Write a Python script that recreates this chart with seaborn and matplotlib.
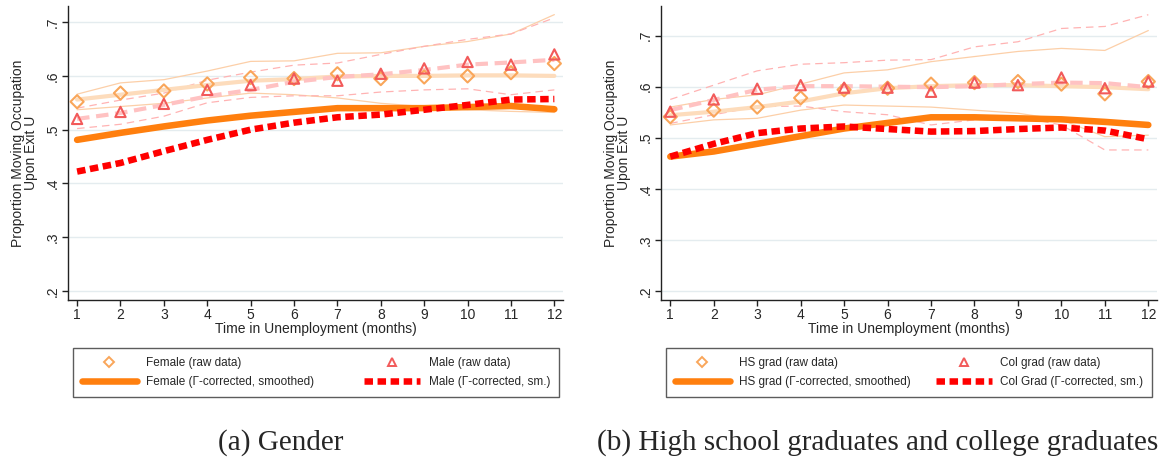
import numpy as np
import pandas as pd
import matplotlib
matplotlib.use('Agg')
import matplotlib.pyplot as plt
import seaborn as sns
from matplotlib.lines import Line2D

# months in unemployment
months = list(range(1, 13))

# ---- panel (a) gender ----
fem_raw = [0.552, 0.568, 0.572, 0.585, 0.597, 0.595, 0.604, 0.595, 0.598, 0.600, 0.606, 0.623]
male_raw = [0.520, 0.533, 0.548, 0.574, 0.583, 0.595, 0.591, 0.604, 0.614, 0.626, 0.621, 0.640]
fem_smooth = [0.556, 0.565, 0.574, 0.583, 0.591, 0.594, 0.599, 0.600, 0.600, 0.601, 0.601, 0.600]
male_smooth = [0.520, 0.531, 0.546, 0.562, 0.574, 0.589, 0.598, 0.603, 0.611, 0.621, 0.625, 0.630]
fem_hi = [0.566, 0.587, 0.593, 0.609, 0.627, 0.628, 0.642, 0.643, 0.655, 0.664, 0.678, 0.714]
fem_lo = [0.537, 0.543, 0.549, 0.559, 0.568, 0.565, 0.559, 0.549, 0.543, 0.537, 0.534, 0.532]
male_hi = [0.540, 0.555, 0.568, 0.592, 0.607, 0.620, 0.624, 0.640, 0.655, 0.668, 0.678, 0.708]
male_lo = [0.502, 0.510, 0.525, 0.550, 0.560, 0.563, 0.563, 0.570, 0.574, 0.576, 0.565, 0.574]
fem_corr = [0.481, 0.494, 0.506, 0.517, 0.526, 0.533, 0.540, 0.540, 0.540, 0.542, 0.544, 0.538]
male_corr = [0.422, 0.438, 0.460, 0.481, 0.500, 0.513, 0.523, 0.528, 0.537, 0.546, 0.556, 0.557]

# ---- panel (b) education ----
hs_raw = [0.541, 0.554, 0.560, 0.578, 0.594, 0.597, 0.605, 0.608, 0.610, 0.605, 0.586, 0.610]
col_raw = [0.551, 0.575, 0.596, 0.603, 0.598, 0.598, 0.590, 0.608, 0.603, 0.618, 0.597, 0.610]
hs_smooth = [0.544, 0.551, 0.560, 0.571, 0.587, 0.597, 0.601, 0.603, 0.603, 0.601, 0.599, 0.595]
col_smooth = [0.554, 0.574, 0.594, 0.601, 0.601, 0.600, 0.599, 0.601, 0.605, 0.608, 0.607, 0.599]
hs_hi = [0.560, 0.575, 0.584, 0.605, 0.627, 0.633, 0.649, 0.659, 0.669, 0.675, 0.671, 0.710]
hs_lo = [0.525, 0.535, 0.538, 0.554, 0.564, 0.562, 0.560, 0.554, 0.548, 0.535, 0.502, 0.505]
col_hi = [0.575, 0.603, 0.631, 0.644, 0.647, 0.652, 0.653, 0.678, 0.688, 0.714, 0.718, 0.741]
col_lo = [0.528, 0.545, 0.561, 0.562, 0.551, 0.545, 0.525, 0.535, 0.541, 0.525, 0.476, 0.476]
hs_corr = [0.463, 0.473, 0.488, 0.503, 0.518, 0.529, 0.540, 0.540, 0.538, 0.536, 0.531, 0.525]
col_corr = [0.463, 0.488, 0.509, 0.518, 0.522, 0.517, 0.512, 0.513, 0.517, 0.520, 0.514, 0.497]

y_ticks = [0.2, 0.3, 0.4, 0.5, 0.6, 0.7]
y_ticklabels = ['.2', '.3', '.4', '.5', '.6', '.7']

# colours
ORANGE = '#FF7F0E'
RED = '#FF0000'
PEACH = '#FDDCBC'
PINK = '#FFC2C2'
PEACH_THIN = '#FCCFA8'
PINK_THIN = '#FFB3B3'
DIAMOND = '#F9A65A'
TRIANGLE = '#F25A5A'
GRID = '#E4ECEF'

sns.set_style('white')
plt.rcParams['font.family'] = ['Liberation Sans', 'DejaVu Sans']


def draw_panel(ax, raw_a, raw_b, sm_a, sm_b, hi_a, lo_a, hi_b, lo_b, corr_a, corr_b, ylim):
    df = pd.DataFrame({'month': months})
    # confidence bands of raw data (thin lines)
    sns.lineplot(x=df['month'], y=hi_a, ax=ax, color=PEACH_THIN, lw=0.9)
    sns.lineplot(x=df['month'], y=lo_a, ax=ax, color=PEACH_THIN, lw=0.9)
    sns.lineplot(x=df['month'], y=hi_b, ax=ax, color=PINK_THIN, lw=0.9, linestyle=(0, (6, 4)))
    sns.lineplot(x=df['month'], y=lo_b, ax=ax, color=PINK_THIN, lw=0.9, linestyle=(0, (6, 4)))
    # smoothed raw data
    sns.lineplot(x=df['month'], y=sm_a, ax=ax, color=PEACH, lw=3)
    sns.lineplot(x=df['month'], y=sm_b, ax=ax, color=PINK, lw=3, linestyle=(0, (3, 1.6)))
    # raw data markers
    sns.scatterplot(x=df['month'], y=raw_a, ax=ax, marker='D', s=45, facecolors='none',
                    edgecolor=DIAMOND, linewidth=1.5, zorder=4)
    sns.scatterplot(x=df['month'], y=raw_b, ax=ax, marker='^', s=55, facecolors='none',
                    edgecolor=TRIANGLE, linewidth=1.5, zorder=4)
    # corrected, smoothed
    sns.lineplot(x=df['month'], y=corr_a, ax=ax, color=ORANGE, lw=4.7, zorder=5)
    sns.lineplot(x=df['month'], y=corr_b, ax=ax, color=RED, lw=4.7, zorder=6,
                 linestyle=(0, (1.3, 0.7)))

    ax.set_xlim(0.79, 12.2)
    ax.set_ylim(*ylim)
    ax.set_xticks(months)
    ax.set_yticks(y_ticks)
    ax.set_yticklabels(y_ticklabels, rotation=90, va='center')
    ax.grid(axis='y', color=GRID, lw=1)
    ax.set_axisbelow(True)
    for s in ['top', 'right']:
        ax.spines[s].set_visible(False)
    for s in ['left', 'bottom']:
        ax.spines[s].set_color('#222222')
        ax.spines[s].set_linewidth(1.0)
    ax.tick_params(axis='both', direction='out', length=4, width=1, color='#222222',
                   labelsize=10, left=True, bottom=True, pad=2)
    ax.set_xlabel('Time in Unemployment (months)', fontsize=10)
    ax.set_ylabel('Proportion Moving Occupation\nUpon Exit U', fontsize=10, linespacing=0.95)
    ax.xaxis.set_label_coords(0.5, -0.075)
    ax.yaxis.set_label_coords(-0.06, 0.5)


def add_legend(fig, labels, x0, w):
    handles = [
        Line2D([], [], marker='D', ls='none', markersize=5.5, markerfacecolor='none',
               markeredgecolor=DIAMOND, markeredgewidth=1.4),
        Line2D([], [], color=ORANGE, lw=4.7),
        Line2D([], [], marker='^', ls='none', markersize=6, markerfacecolor='none',
               markeredgecolor=TRIANGLE, markeredgewidth=1.4),
        Line2D([], [], color=RED, lw=4.7, linestyle=(0, (1.3, 0.7))),
    ]
    leg = fig.legend(handles, labels, ncol=2, loc='upper left', mode='expand',
                     bbox_to_anchor=(x0, 0.2385, w, 0.0), bbox_transform=fig.transFigure,
                     borderaxespad=0, fontsize=8.5, frameon=True, fancybox=False,
                     handlelength=4.7, handletextpad=0.75, labelspacing=0.6,
                     borderpad=0.75, columnspacing=2.5)
    leg.get_frame().set_edgecolor('#333333')
    leg.get_frame().set_linewidth(1.0)


fig = plt.figure(figsize=(11.64, 4.57), dpi=100)
ax1 = fig.add_axes([0.0584, 0.3435, 0.4253, 0.6433])
ax2 = fig.add_axes([0.568, 0.3435, 0.426, 0.6433])

draw_panel(ax1, fem_raw, male_raw, fem_smooth, male_smooth, fem_hi, fem_lo, male_hi, male_lo,
           fem_corr, male_corr, (0.183, 0.73))
draw_panel(ax2, hs_raw, col_raw, hs_smooth, col_smooth, hs_hi, hs_lo, col_hi, col_lo,
           hs_corr, col_corr, (0.182, 0.758))

add_legend(fig, ['Female (raw data)', 'Female (\u0393-corrected, smoothed)',
                 'Male (raw data)', 'Male (\u0393-corrected, sm.)'], 0.0625, 0.4178)
add_legend(fig, ['HS grad (raw data)', 'HS grad (\u0393-corrected, smoothed)',
                 'Col grad (raw data)', 'Col Grad (\u0393-corrected, sm.)'], 0.572, 0.418)

fig.text(0.2415, 0.031, '(a) Gender', ha='center', va='center', fontsize=21,
         family=['Liberation Serif', 'DejaVu Serif'])
fig.text(0.754, 0.031, '(b) High school graduates and college graduates', ha='center',
         va='center', fontsize=21, family=['Liberation Serif', 'DejaVu Serif'])

fig.savefig('out.png', dpi=100)
